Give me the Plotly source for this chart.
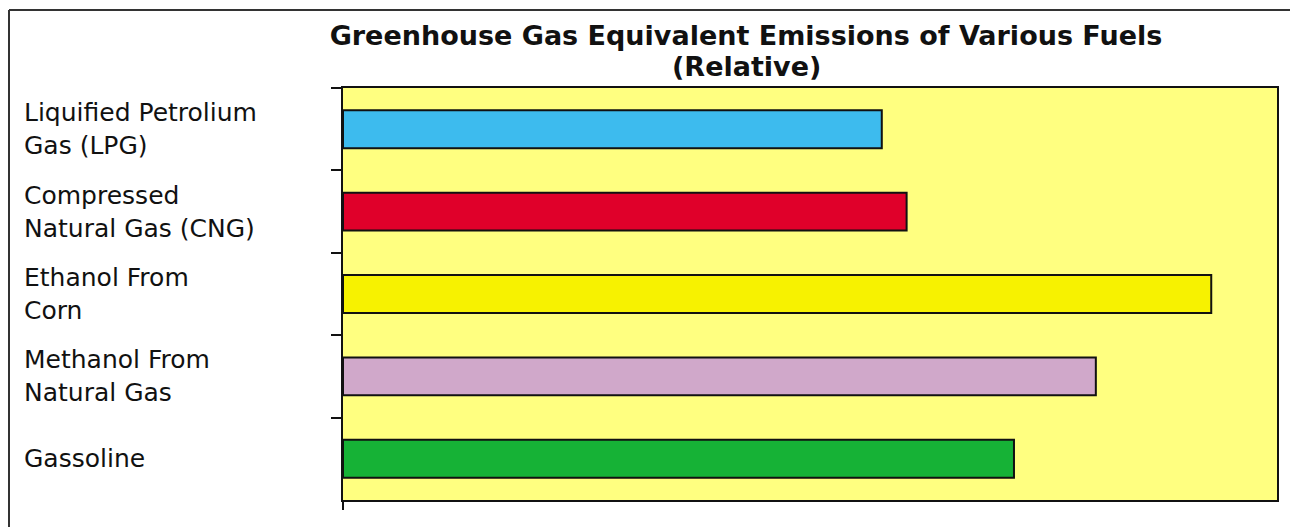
import plotly.graph_objects as go

fuels = ["Liquified Petrolium<br>Gas (LPG)", "Compressed<br>Natural Gas (CNG)",
         "Ethanol From<br>Corn", "Methanol From<br>Natural Gas", "Gassoline"]
emissions = [80.3, 84.0, 129.4, 112.2, 100.0]
colors = ["#3DBBEE", "#E0002A", "#F7F200", "#D0A8CA", "#16B236"]
title_line1 = "Greenhouse Gas Equivalent Emissions of Various Fuels"
title_line2 = "(Relative)"

# page geometry (the html body adds an 8px offset)
OFF = 8
PAGE_W, PAGE_H = 1298, 527
W, H = PAGE_W - OFF, PAGE_H - OFF
PL, PR, PT, PB = 343, 1277, 88, 500          # plot area in page pixels
L, R, T, B = PL - OFF, OFF + W - PR, PT - OFF, OFF + H - PB
pw, ph = PR - PL, PB - PT


def px(xpage):
    return (xpage - PL) / pw


def py(ypage):
    return (PB - ypage) / ph


title_font = dict(family="DejaVu Sans", size=27, color="#111111", weight="bold")

fig = go.Figure(go.Bar(
    x=emissions, y=fuels, orientation="h",
    marker=dict(color=colors, line=dict(color="#111111", width=2)),
    hoverinfo="x+y",
))

fig.update_layout(
    width=W, height=H,
    margin=dict(l=L, r=R, t=T, b=B, autoexpand=False),
    paper_bgcolor="white",
    plot_bgcolor="#FFFF80",
    bargap=0.54,
    showlegend=False,
    title=dict(
        text=title_line1,
        x=(746 - OFF) / W, xanchor="center", y=1 - (36 - OFF) / H, yanchor="middle",
        font=title_font,
    ),
)
fig.add_annotation(text=title_line2, xref="paper", yref="paper",
                   x=px(746), y=py(66), xanchor="center", yanchor="middle",
                   showarrow=False, font=title_font)

fig.update_xaxes(range=[0, 139.2], showgrid=False, zeroline=False,
                 showticklabels=False, showline=True, linecolor="#111111",
                 linewidth=2, mirror=True, ticks="outside", tickvals=[0],
                 ticklen=8, tickcolor="#111111", tickwidth=2)
fig.update_yaxes(autorange="reversed", showgrid=False, showline=True,
                 linecolor="#111111", linewidth=2, mirror=True,
                 ticks="outside", tickson="boundaries", ticklen=10,
                 tickcolor="#111111", tickwidth=2, showticklabels=False)

for f in fuels:
    fig.add_annotation(text=f, xref="paper", yref="y", x=px(22), y=f,
                       xanchor="left", yanchor="middle", align="left",
                       showarrow=False,
                       font=dict(family="DejaVu Sans", size=25, color="#111111"))

# outer chart frame
frame = dict(xref="paper", yref="paper", type="line")
fig.add_shape(**frame, x0=px(9), x1=px(9), y0=py(540), y1=py(10),
              line=dict(color="#333333", width=2))
fig.add_shape(**frame, x0=px(9), x1=px(1297), y0=py(10), y1=py(10),
              line=dict(color="#333333", width=2))
fig.add_shape(**frame, x0=px(1296), x1=px(1296), y0=py(540), y1=py(10),
              line=dict(color="#BBBBBB", width=1))

fig.write_html("out.html")
